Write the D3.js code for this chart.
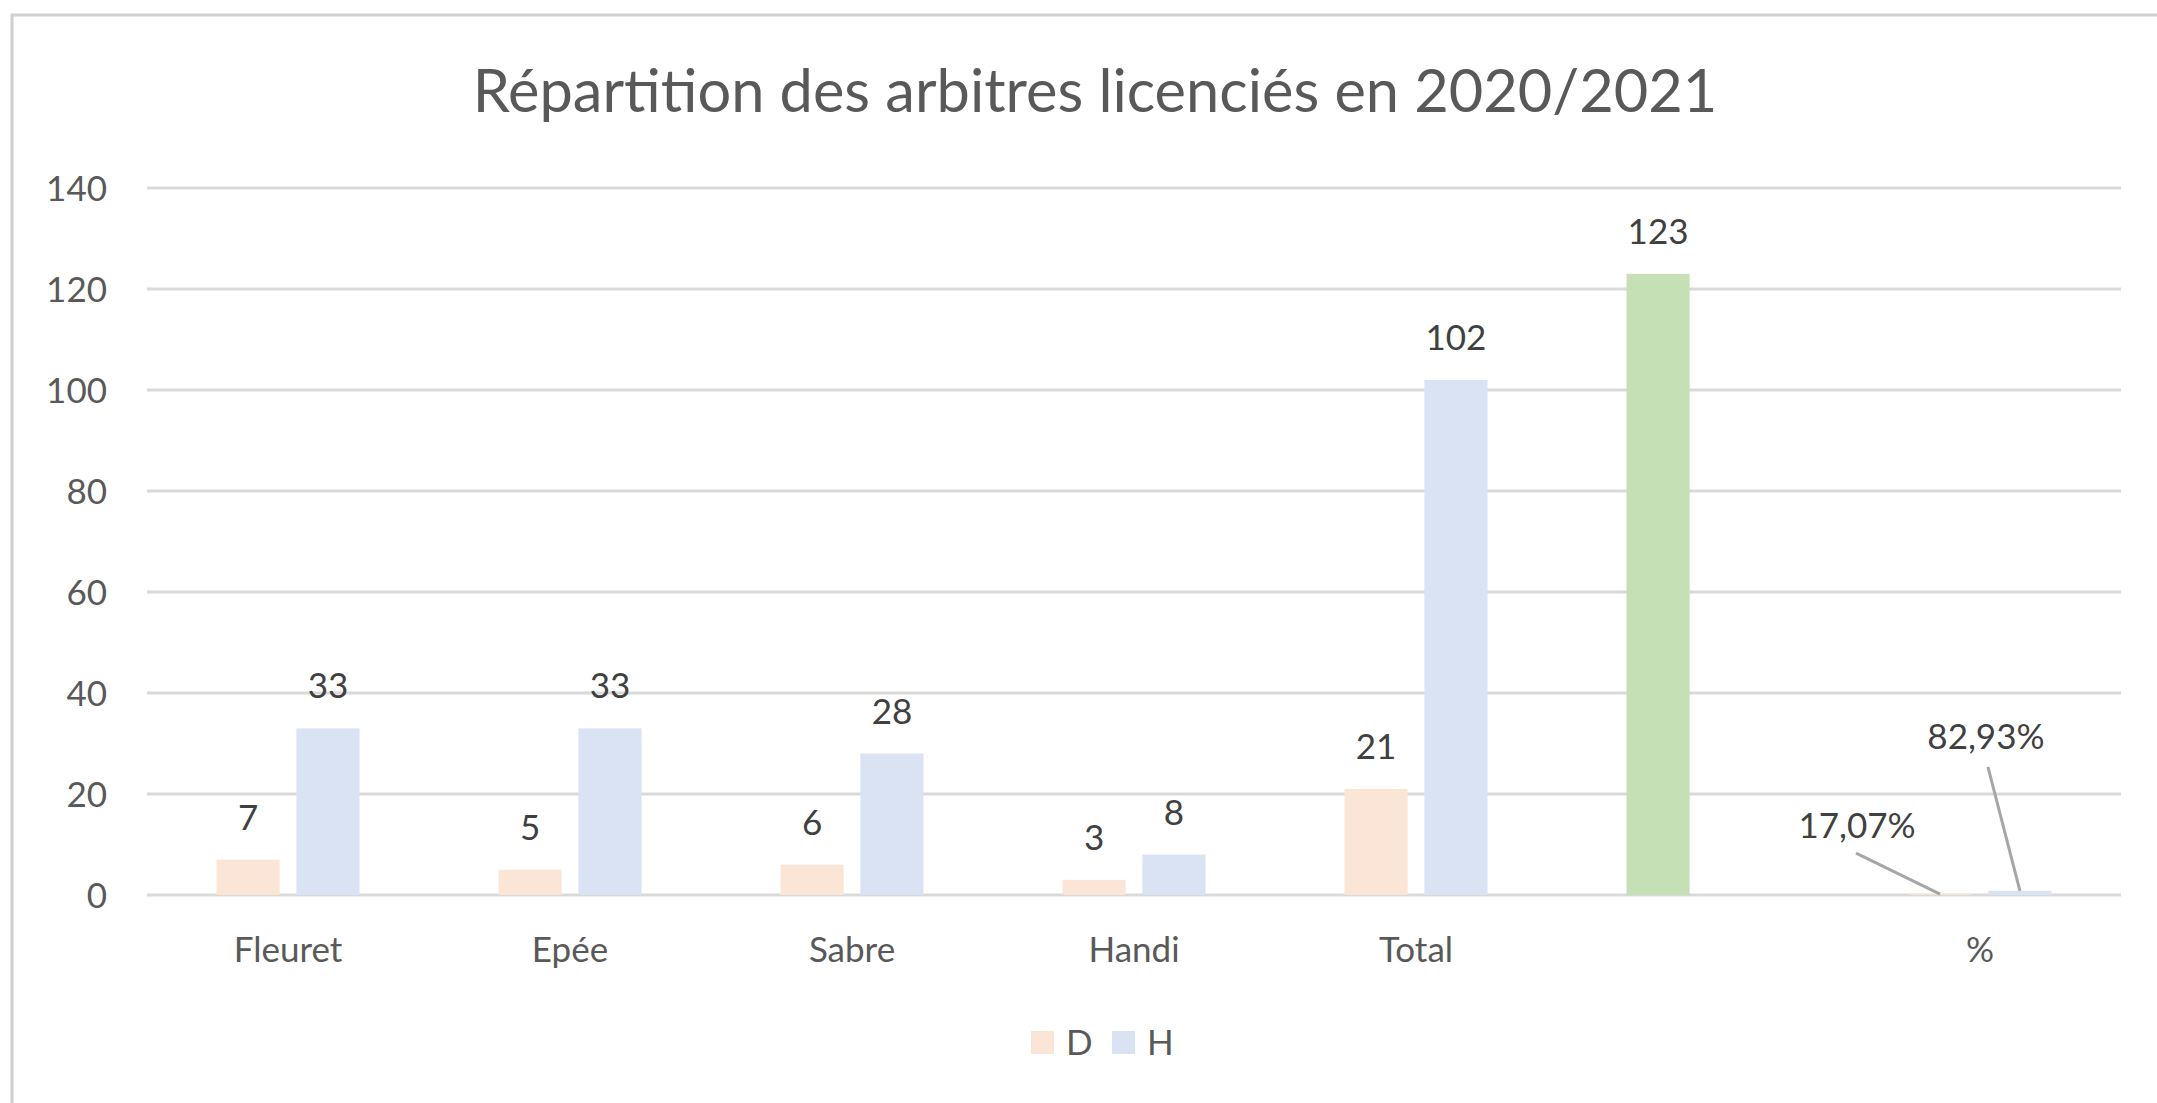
<!DOCTYPE html>
<html>
<head>
<meta charset="utf-8">
<script src="https://cdnjs.cloudflare.com/ajax/libs/d3/7.8.5/d3.min.js"></script>
<style>
  html, body {
    margin: 0;
    padding: 0;
    background: #ffffff;
  }

  svg text {
    font-family: Lato, "Open Sans", sans-serif;
  }

  .grid line {
    stroke: #d9d9d9;
    stroke-width: 3;
  }

  .axis text {
    fill: #595959;
    font-size: 35px;
  }

  .label {
    fill: #404040;
    font-size: 35px;
  }
</style>
</head>
<body>
<script>
  // données
  let categories = ['Fleuret', 'Epée', 'Sabre', 'Handi', 'Total', '', '%'];
  let seriesNames = ['D', 'H'];
  let valuesD = [7, 5, 6, 3, 21, 123, 0.1707];
  let valuesH = [33, 33, 28, 8, 102, null, 0.8293];
  let labelsD = ['7', '5', '6', '3', '21', '123', '17,07%'];
  let labelsH = ['33', '33', '28', '8', '102', '', '82,93%'];
  let yTicks = [0, 20, 40, 60, 80, 100, 120, 140];
  let title = 'Répartition des arbitres licenciés en 2020/2021';

  let colors = { D: '#fbe5d6', H: '#dae3f3', total: '#c5e0b4' };

  let width = 2157;
  let height = 1103;
  let plot = { left: 147, right: 2121, top: 188, bottom: 895 };

  let svg = d3.select('body').append('svg')
    .attr('width', width)
    .attr('height', height);

  // cadre du graphique
  svg.append('rect')
    .attr('x', 12)
    .attr('y', 15)
    .attr('width', width + 20)
    .attr('height', height + 20)
    .attr('fill', '#ffffff')
    .attr('stroke', '#d0d0d0')
    .attr('stroke-width', 3);

  // titre, ajusté à la largeur de l'original
  let titleText = svg.append('text')
    .attr('x', 1095)
    .attr('y', 112)
    .attr('text-anchor', 'middle')
    .attr('fill', '#595959')
    .style('font-size', '60px')
    .text(title);
  let tw = titleText.node().getComputedTextLength();
  titleText.style('font-size', (60 * 1245 / tw) + 'px');

  let x0 = d3.scaleBand()
    .domain(d3.range(categories.length))
    .range([plot.left, plot.right]);

  let x1 = d3.scaleBand()
    .domain(seriesNames)
    .range([69.5, 212.5])
    .paddingInner(0.21);

  let y = d3.scaleLinear()
    .domain([0, 140])
    .range([plot.bottom, plot.top]);

  // grille
  let grid = svg.append('g').attr('class', 'grid');
  grid.selectAll('line')
    .data(yTicks)
    .enter()
    .append('line')
    .attr('x1', plot.left)
    .attr('x2', plot.right)
    .attr('y1', function(d) { return y(d); })
    .attr('y2', function(d) { return y(d); });

  // axe Y
  let yAxis = svg.append('g')
    .attr('class', 'axis')
    .attr('transform', 'translate(' + (plot.left - 40) + ',0)')
    .call(d3.axisLeft(y).tickValues(yTicks).tickSize(0).tickPadding(0));
  yAxis.select('.domain').remove();
  yAxis.selectAll('text').attr('dy', '0.36em');

  // axe X
  let xAxis = svg.append('g')
    .attr('class', 'axis')
    .attr('transform', 'translate(0,' + plot.bottom + ')')
    .call(d3.axisBottom(x0).tickFormat(function(i) { return categories[i]; }).tickSize(0).tickPadding(0));
  xAxis.select('.domain').remove();
  xAxis.selectAll('text').attr('y', 67).attr('dy', 0);

  let bars = [];
  categories.forEach(function(c, i) {
    if (valuesD[i] !== null) {
      bars.push({ i: i, s: 'D', v: valuesD[i], label: labelsD[i] });
    }
    if (valuesH[i] !== null) {
      bars.push({ i: i, s: 'H', v: valuesH[i], label: labelsH[i] });
    }
  });

  let barX = function(d) { return x0(d.i) + x1(d.s); };

  svg.append('g')
    .selectAll('rect')
    .data(bars)
    .enter()
    .append('rect')
    .attr('x', barX)
    .attr('width', x1.bandwidth())
    .attr('y', function(d) { return y(d.v); })
    .attr('height', function(d) { return y(0) - y(d.v); })
    .attr('fill', function(d) {
      if (categories[d.i] === '') {
        return colors.total;
      }
      return colors[d.s];
    });

  // étiquettes déplacées à la main pour la catégorie % (décalages depuis le haut de la barre)
  let moved = {
    D: { dx: -83, dy: -56, lx: -84, ly: -41 },
    H: { dx: -34, dy: -142, lx: -32, ly: -124 }
  };

  let labels = svg.append('g');
  bars.forEach(function(d) {
    let cx = barX(d) + x1.bandwidth() / 2;
    let top = y(d.v);
    if (categories[d.i] === '%') {
      let m = moved[d.s];
      labels.append('line')
        .attr('x1', cx + m.lx)
        .attr('y1', top + m.ly)
        .attr('x2', cx)
        .attr('y2', top)
        .attr('stroke', '#a6a6a6')
        .attr('stroke-width', 3);
      labels.append('text')
        .attr('class', 'label')
        .attr('x', cx + m.dx)
        .attr('y', top + m.dy)
        .attr('text-anchor', 'middle')
        .text(d.label);
    } else {
      labels.append('text')
        .attr('class', 'label')
        .attr('x', cx)
        .attr('y', top - 30)
        .attr('text-anchor', 'middle')
        .text(d.label);
    }
  });

  // légende
  let legend = svg.append('g')
    .attr('transform', 'translate(1031,1031)');
  let item = legend.selectAll('g')
    .data(seriesNames)
    .enter()
    .append('g')
    .attr('transform', function(d, i) { return 'translate(' + (i * 81) + ',0)'; });
  item.append('rect')
    .attr('width', 23)
    .attr('height', 23)
    .attr('fill', function(d) { return colors[d]; });
  item.append('text')
    .attr('class', 'axis')
    .attr('x', 35)
    .attr('y', 24)
    .attr('fill', '#595959')
    .style('font-size', '35px')
    .text(function(d) { return d; });
</script>
</body>
</html>
